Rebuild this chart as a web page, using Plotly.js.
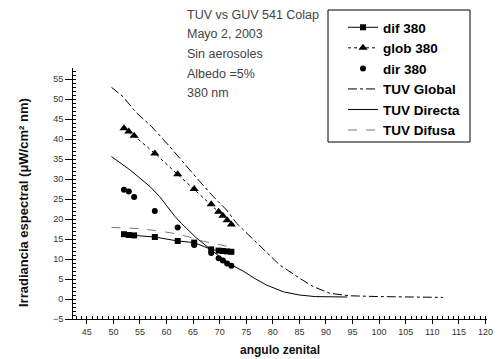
<!DOCTYPE html>
<html>
<head>
<meta charset="utf-8">
<script src="https://cdn.plot.ly/plotly-3.0.1.min.js"></script>
<style>html,body{margin:0;padding:0;background:#fff;}#chart{width:498px;height:359px;}</style>
</head>
<body>
<div id="chart"></div>
<script>
// Measured angles (zenith) and values
const angMeas = [52.0, 52.9, 53.9, 57.8, 62.1, 65.2, 68.4, 69.8, 70.6, 71.4, 72.2];
const dif380  = [16.2, 16.0, 15.9, 15.5, 14.5, 14.1, 12.4, 12.1, 12.0, 11.9, 11.8];
const glob380 = [42.7, 41.9, 40.8, 36.4, 31.2, 27.5, 23.7, 21.8, 20.8, 19.7, 18.6];
const dir380  = [27.3, 26.9, 25.5, 22.0, 17.9, 13.5, 11.5, 10.2, 9.6, 8.9, 8.3];

// TUV model curves
const tuvGlobalX = [49.65, 51.8, 54.3, 57.2, 60.6, 63.8, 66.3, 68.8, 71.3, 73.2, 77.0, 81.3, 84.8, 87.6, 90.8, 94.5, 100.2, 106, 112];
const tuvGlobalY = [52.9, 50.6, 46.6, 43.1, 38.1, 33.1, 29.3, 25.6, 22.25, 18.9, 13.9, 8.5, 5.4, 3.1, 1.4, 0.8, 0.6, 0.5, 0.4];
const tuvDirX = [49.65, 53.1, 56.9, 58.7, 61.6, 62.8, 65.5, 69.8, 72.5, 74.4, 76.5, 78.8, 82, 85, 88, 94];
const tuvDirY = [35.6, 32.3, 28.1, 25.6, 20.6, 18.9, 15.4, 10.8, 8.3, 7.0, 5.2, 3.5, 1.8, 1.0, 0.6, 0.5];
const tuvDifX = [49.65, 52, 55, 58, 61, 64, 67, 70, 72];
const tuvDifY = [17.9, 17.8, 17.6, 17.1, 16.5, 15.6, 14.4, 13.6, 13.0];

const xTickStart = 45, xTickStep = 5;
const yTickStart = -5, yTickStep = 5;

const titleLines = ["TUV vs GUV 541 Colap", "Mayo 2, 2003", "Sin aerosoles", "Albedo =5%", "380 nm"];

const L = 73, R = 11, T = 68, B = 40, W = 498, H = 359;
const pw = W - L - R, ph = H - T - B;
const px2x = p => (p - L) / pw;
const py2y = p => (H - B - p) / ph;

const traces = [
  {name: 'dif 380', x: angMeas, y: dif380, mode: 'lines+markers',
   line: {color: '#000', width: 1}, marker: {symbol: 'square', size: 6, color: '#000'}},
  {name: 'glob 380', x: angMeas, y: glob380, mode: 'lines+markers',
   line: {color: '#000', width: 1, dash: 'dot'}, marker: {symbol: 'triangle-up', size: 8, color: '#000'}},
  {name: 'dir 380', x: angMeas, y: dir380, mode: 'markers',
   marker: {symbol: 'circle', size: 6, color: '#000'}},
  {name: 'TUV Global', x: tuvGlobalX, y: tuvGlobalY, mode: 'lines',
   line: {color: '#000', width: 1, dash: 'dashdot'}},
  {name: 'TUV Directa', x: tuvDirX, y: tuvDirY, mode: 'lines',
   line: {color: '#000', width: 1}},
  {name: 'TUV Difusa', x: tuvDifX, y: tuvDifY, mode: 'lines',
   line: {color: '#777', width: 1, dash: 'dash'}}
];

const annotations = titleLines.map((t, i) => ({
  text: t, xref: 'paper', yref: 'paper', x: px2x(185), y: py2y(15 + i * 19.5),
  xanchor: 'left', yanchor: 'middle', showarrow: false,
  font: {family: 'Liberation Sans, Arial, sans-serif', size: 12.5, color: '#444'}
}));
annotations.push({
  text: 'Irradiancia espectral (μW/cm² nm)', xref: 'paper', yref: 'paper',
  x: px2x(23), y: py2y(203), textangle: -90, showarrow: false,
  xanchor: 'center', yanchor: 'middle',
  font: {family: 'Liberation Sans, Arial, sans-serif', size: 13, color: '#111', weight: 'bold'}
});
annotations.push({
  text: 'angulo zenital', xref: 'paper', yref: 'paper',
  x: px2x(280), y: py2y(350), showarrow: false, xanchor: 'center', yanchor: 'middle',
  font: {family: 'Liberation Sans, Arial, sans-serif', size: 12, color: '#111', weight: 'bold'}
});

const layout = {
  width: W, height: H,
  margin: {l: L, r: R, t: T, b: B, pad: 0},
  paper_bgcolor: '#fff', plot_bgcolor: '#fff',
  showlegend: true,
  font: {family: 'Liberation Sans, Arial, sans-serif', color: '#222'},
  xaxis: {
    range: [42.4, 120.3], tickmode: 'linear', tick0: xTickStart, dtick: xTickStep,
    showline: true, linecolor: '#000', linewidth: 1, mirror: false,
    ticks: 'outside', ticklen: 4, tickcolor: '#000', tickwidth: 1,
    showgrid: false, zeroline: false,
    tickfont: {size: 9, color: '#333'},
    minor: {ticks: 'inside', ticklen: 3, dtick: 1, tickcolor: '#000', showgrid: false}
  },
  yaxis: {
    range: [-5, 57.75], tickmode: 'linear', tick0: yTickStart, dtick: yTickStep,
    showline: true, linecolor: '#000', linewidth: 1,
    ticks: 'outside', ticklen: 7, tickcolor: '#000', tickwidth: 1,
    showgrid: false, zeroline: false,
    tickfont: {size: 9, color: '#333'},
    minor: {ticks: 'inside', ticklen: 3, dtick: 1, tickcolor: '#000', showgrid: false}
  },
  legend: {
    x: px2x(343), y: py2y(12), xanchor: 'left', yanchor: 'top',
    bgcolor: 'rgba(0,0,0,0)', borderwidth: 0,
    font: {family: 'Liberation Sans, Arial, sans-serif', size: 13.5, color: '#000', weight: 'bold'},
    tracegroupgap: 0
  },
  shapes: [{
    type: 'rect', xref: 'paper', yref: 'paper',
    x0: px2x(328), x1: px2x(470), y0: py2y(142), y1: py2y(10),
    line: {color: '#000', width: 1}, fillcolor: '#fff', layer: 'above'
  }],
  annotations: annotations
};

Plotly.newPlot('chart', traces, layout, {staticPlot: true, displayModeBar: false});
</script>
</body>
</html>
